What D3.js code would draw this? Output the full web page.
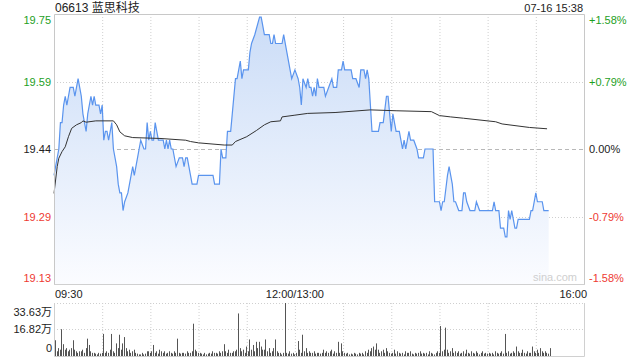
<!DOCTYPE html>
<html><head><meta charset="utf-8">
<script src="https://cdn.jsdelivr.net/npm/d3@7/dist/d3.min.js"></script>
<style>
body{margin:0;background:#fff}
svg{display:block}
text{font-family:"Liberation Sans",Arial,"Noto Sans CJK SC",sans-serif}
</style>
</head><body>
<svg id="c" width="640" height="360"></svg>
<script>
// ---------- data ----------
const title = "06613 蓝思科技";
const stamp = "07-16 15:38";
const prevClose = 19.44;
const pctRange = 0.0158;
const priceTicks = ["19.75", "19.59", "19.44", "19.29", "19.13"];
const pctTicks = ["+1.58%", "+0.79%", "0.00%", "-0.79%", "-1.58%"];
const tickPcts = [0.0158, 0.0079, 0, -0.0079, -0.0158];
const timeLabels = ["09:30", "12:00/13:00", "16:00"];
const timeLabelMinutes = [0, 150, 330];
const volTicks = ["33.63万", "16.82万", "0"];
const volTickValues = [33.63, 16.82, 0];

// trading minute index from 09:30 (lunch removed) and price
const minute = [0,2,3,4,5,6,7,8,9,10,12,13,14,15,16,17,18,20,21,23,24,25,26,28,29,30,31,32,33,34,35,36,37,39,40,41,42,43,44,46,47,48,49,50,51,52,53,54,56,57,58,59,60,61,62,63,64,65,68,69,70,71,72,73,74,76,78,80,81,82,83,84,85,86,89,90,99,100,103,104,105,107,108,110,111,113,114,116,117,118,121,122,123,125,128,129,131,134,135,136,137,138,142,143,145,147,148,150,152,153,154,155,157,158,159,160,161,162,163,164,165,168,169,171,173,174,176,177,179,180,181,185,186,188,190,191,193,194,195,196,197,198,202,203,205,207,208,209,210,211,213,215,216,217,218,219,221,222,224,226,227,230,231,236,237,240,241,242,243,245,246,247,248,249,250,252,254,255,256,257,259,262,263,265,273,274,275,277,278,280,281,282,283,284,285,286,287,288,289,296,297,298,300,301,304,305,308];
const price = [19.38,19.42,19.44,19.50,19.50,19.54,19.56,19.54,19.56,19.58,19.58,19.56,19.58,19.60,19.58,19.56,19.52,19.48,19.52,19.56,19.54,19.56,19.54,19.54,19.52,19.54,19.46,19.48,19.48,19.46,19.48,19.50,19.44,19.40,19.36,19.34,19.34,19.30,19.32,19.34,19.36,19.38,19.40,19.38,19.40,19.42,19.44,19.46,19.44,19.44,19.50,19.46,19.48,19.46,19.46,19.50,19.48,19.46,19.46,19.44,19.46,19.44,19.46,19.44,19.44,19.40,19.42,19.42,19.40,19.42,19.42,19.40,19.38,19.36,19.36,19.38,19.38,19.36,19.36,19.44,19.42,19.42,19.48,19.48,19.52,19.60,19.60,19.64,19.60,19.62,19.62,19.66,19.68,19.70,19.74,19.74,19.70,19.70,19.68,19.68,19.70,19.68,19.68,19.70,19.66,19.62,19.60,19.62,19.60,19.58,19.54,19.60,19.58,19.60,19.58,19.58,19.56,19.58,19.56,19.60,19.58,19.58,19.56,19.58,19.60,19.58,19.58,19.62,19.62,19.64,19.62,19.62,19.60,19.60,19.58,19.62,19.62,19.60,19.62,19.60,19.54,19.48,19.48,19.50,19.50,19.56,19.56,19.52,19.48,19.52,19.48,19.48,19.46,19.44,19.46,19.44,19.48,19.46,19.46,19.44,19.42,19.42,19.44,19.44,19.32,19.32,19.30,19.32,19.32,19.38,19.40,19.38,19.36,19.32,19.32,19.30,19.30,19.34,19.34,19.32,19.30,19.30,19.32,19.30,19.30,19.32,19.30,19.30,19.26,19.26,19.24,19.24,19.30,19.28,19.30,19.28,19.26,19.26,19.28,19.28,19.30,19.30,19.34,19.32,19.32,19.30,19.30];

// average price line
const avgMinute = [0,2,3,5,7,9,11,14,17,18,20,26,37,39,41,44,49,66,82,85,90,106,111,113,120,126,131,135,141,142,150,158,175,197,213,235,240,247,255,275,279,296,307];
const avgPrice = [19.339,19.400,19.419,19.434,19.445,19.468,19.487,19.495,19.500,19.504,19.501,19.504,19.504,19.495,19.479,19.470,19.466,19.464,19.460,19.457,19.454,19.449,19.449,19.457,19.468,19.482,19.495,19.502,19.504,19.513,19.517,19.521,19.523,19.529,19.527,19.525,19.516,19.513,19.510,19.502,19.497,19.489,19.486];

// volume per minute (万股), minute 0..308
const volume = [
10,3,5,4,17,7.5,4,5,3,4,
5,10,4,3,2,3,3,4,2,5,
11,7,3,2,2,1.5,1,2,1.5,2,
14,2,3,2,4,14,3,2,8,5,
13.5,4,8,12,5,3,4,2,3,4,
2,1.5,1,1,2,1,1.5,3,3,2,
3,7,2,3,1.5,4,3,2,3,1.5,
2,3,2,1.5,3,2,11,2,1.5,2,
2,1.5,3,2,2,3,20.5,4,3,2,
2,1.5,1,2,1,1.5,2,1.5,3,2,
2,1.5,3,2,3,7.5,3,2,4,2,
2,3,3,4,27,5,3,4,2,6,
3,10.5,4,7,3,9,5,9,6,4,
4,10.5,3,5,2,3,5,10.5,3,2,
2,1,2,33.63,2,1.5,3,1.5,2,1,
2,9.5,4,2,13.5,3,5,2,3,2,
2,3,1.5,2,2,1.5,2,4,2,3,
2,3,4,1.5,3,2,9,2,8,3,
2,1.5,2,1,1.5,1,2,1.5,1,2,
1.5,2,1,3,2,4,3,5,6,4,
8,4,2,3,4,2,5,3,2,1.5,
2,4,1.5,3,2,1.5,2,1,3,2,
2,3,1.5,1,2,1.5,2,3,1.5,2,
1.5,2,1,3,2,1.5,1,2,3,2,
19,3,4,18,4,2,3,5,2,3,
2,3,1.5,2,3,1.5,4,2,1.5,3,
2,1.5,3,2,1,2,3,1.5,2,1.5,
2,1.5,2,1,3,2,1.5,2,3,1.5,
14,2,3,1.5,2,3,2,6,3,2,
2,4,2,1.5,3,2,2,6,3,2,
4,2,5,3,2,3,2,1.5,5
];

// ---------- drawing ----------
const svg = d3.select("#c");
const L = 54, R = 584, T = 14, B = 284;
const VT = 303, VB = 356;
const GREEN = "#1ea01e", RED = "#ee3a32", DARK = "#222";

const x = d3.scaleLinear().domain([0, 330]).range([L, R]);
const y = d3.scaleLinear().domain([prevClose * (1 - pctRange), prevClose * (1 + pctRange)]).range([B, T]);
const yv = d3.scaleLinear().domain([0, 33.63]).range([VB, VT]);

const defs = svg.append("defs");
const grad = defs.append("linearGradient").attr("id", "fillg")
  .attr("gradientUnits", "userSpaceOnUse").attr("x1", 0).attr("y1", T).attr("x2", 0).attr("y2", B);
grad.append("stop").attr("offset", "0").attr("stop-color", "#cadcf7");
grad.append("stop").attr("offset", "1").attr("stop-color", "#fbfcff");

// vertical grid
const gridMinutes = d3.range(30, 330, 30);
svg.append("g").selectAll("line").data(gridMinutes).join("line")
  .attr("x1", d => x(d) + 0.5).attr("x2", d => x(d) + 0.5)
  .attr("y1", T).attr("y2", B)
  .attr("stroke", "#cfcfcf").attr("stroke-dasharray", "1,2");
svg.append("g").selectAll("line").data(gridMinutes).join("line")
  .attr("x1", d => x(d) + 0.5).attr("x2", d => x(d) + 0.5)
  .attr("y1", VT).attr("y2", VB)
  .attr("stroke", "#cfcfcf").attr("stroke-dasharray", "1,2");

// horizontal grid
const tickPrices = tickPcts.map(p => prevClose * (1 + p));
svg.append("g").selectAll("line").data(tickPrices.slice(1, 4)).join("line")
  .attr("x1", L).attr("x2", R)
  .attr("y1", d => Math.round(y(d)) + 0.5).attr("y2", d => Math.round(y(d)) + 0.5)
  .attr("stroke", (d, i) => i === 1 ? "#b8b8b8" : "#cfcfcf")
  .attr("stroke-dasharray", (d, i) => i === 1 ? "4,3" : "1,2");

// area + line
const pts = minute.map((m, i) => [m, price[i]]);
svg.append("path").datum(pts)
  .attr("d", d3.area().x(d => x(d[0])).y0(B).y1(d => y(d[1])))
  .attr("fill", "url(#fillg)");
svg.append("path").datum(pts)
  .attr("d", d3.line().x(d => x(d[0])).y(d => y(d[1])))
  .attr("fill", "none").attr("stroke", "#5a94ee").attr("stroke-width", 1.2);

const apts = avgMinute.map((m, i) => [m, avgPrice[i]]);
svg.append("path").datum(apts)
  .attr("d", d3.line().x(d => x(d[0])).y(d => y(d[1])))
  .attr("fill", "none").attr("stroke", "#333").attr("stroke-width", 1);

// borders main
svg.append("path").attr("d", `M${L + 0.5},${B}V${T + 0.5}H${R + 0.5}V${B}`)
  .attr("fill", "none").attr("stroke", "#c8c8c8");
svg.append("line").attr("x1", L).attr("x2", R + 1).attr("y1", B + 0.5).attr("y2", B + 0.5)
  .attr("stroke", "#d0d0d0");

// volume frame
svg.append("line").attr("x1", L).attr("x2", R).attr("y1", VT + 0.5).attr("y2", VT + 0.5)
  .attr("stroke", "#cfcfcf").attr("stroke-dasharray", "1,2");
svg.append("line").attr("x1", L).attr("x2", R).attr("y1", Math.round(yv(16.82)) + 0.5).attr("y2", Math.round(yv(16.82)) + 0.5)
  .attr("stroke", "#cfcfcf").attr("stroke-dasharray", "1,2");
svg.append("path").attr("d", `M${L + 0.5},${VT}V${VB + 0.5}H${R + 0.5}V${VT}`)
  .attr("fill", "none").attr("stroke", "#d0d0d0");

// volume bars
svg.append("g").selectAll("rect").data(volume).join("rect")
  .attr("x", (d, i) => Math.round(x(i)) + 1)
  .attr("width", 1)
  .attr("y", d => yv(d))
  .attr("height", d => VB - yv(d))
  .attr("fill", "#555");

// title + stamp
svg.append("text").attr("x", 55).attr("y", 12).attr("font-size", 12).attr("fill", DARK).text(title);
svg.append("text").attr("x", 583).attr("y", 12).attr("font-size", 11).attr("text-anchor", "end").attr("fill", DARK).text(stamp);

// price labels
const labelColor = i => i < 2 ? GREEN : (i === 2 ? DARK : RED);
const labelY = (d, i) => {
  let v = y(d);
  if (i === 0) v = T + 6;
  if (i === 4) v = B - 6;
  return v + 4;
};
svg.append("g").selectAll("text").data(tickPrices).join("text")
  .attr("x", 51).attr("y", labelY).attr("text-anchor", "end")
  .attr("font-size", 11).attr("fill", (d, i) => labelColor(i))
  .text((d, i) => priceTicks[i]);
svg.append("g").selectAll("text").data(tickPrices).join("text")
  .attr("x", 589).attr("y", labelY).attr("text-anchor", "start")
  .attr("font-size", 11).attr("fill", (d, i) => labelColor(i))
  .text((d, i) => pctTicks[i]);

// watermark
svg.append("text").attr("x", 577).attr("y", 281).attr("text-anchor", "end")
  .attr("font-size", 11).attr("fill", "#cfcfcf").text("sina.com");

// time labels
svg.append("g").selectAll("text").data(timeLabelMinutes).join("text")
  .attr("x", (d, i) => i === 0 ? x(d) + 1 : (i === 2 ? x(d) + 3 : x(d)))
  .attr("y", 298)
  .attr("text-anchor", (d, i) => i === 0 ? "start" : (i === 2 ? "end" : "middle"))
  .attr("font-size", 11).attr("fill", DARK)
  .text((d, i) => timeLabels[i]);

// volume labels
svg.append("g").selectAll("text").data(volTickValues).join("text")
  .attr("x", 52).attr("text-anchor", "end")
  .attr("y", (d, i) => i === 0 ? VT + 13 : (i === 2 ? VB - 4 : yv(d) + 4))
  .attr("font-size", 11).attr("fill", DARK)
  .text((d, i) => volTicks[i]);
</script>
</body></html>
